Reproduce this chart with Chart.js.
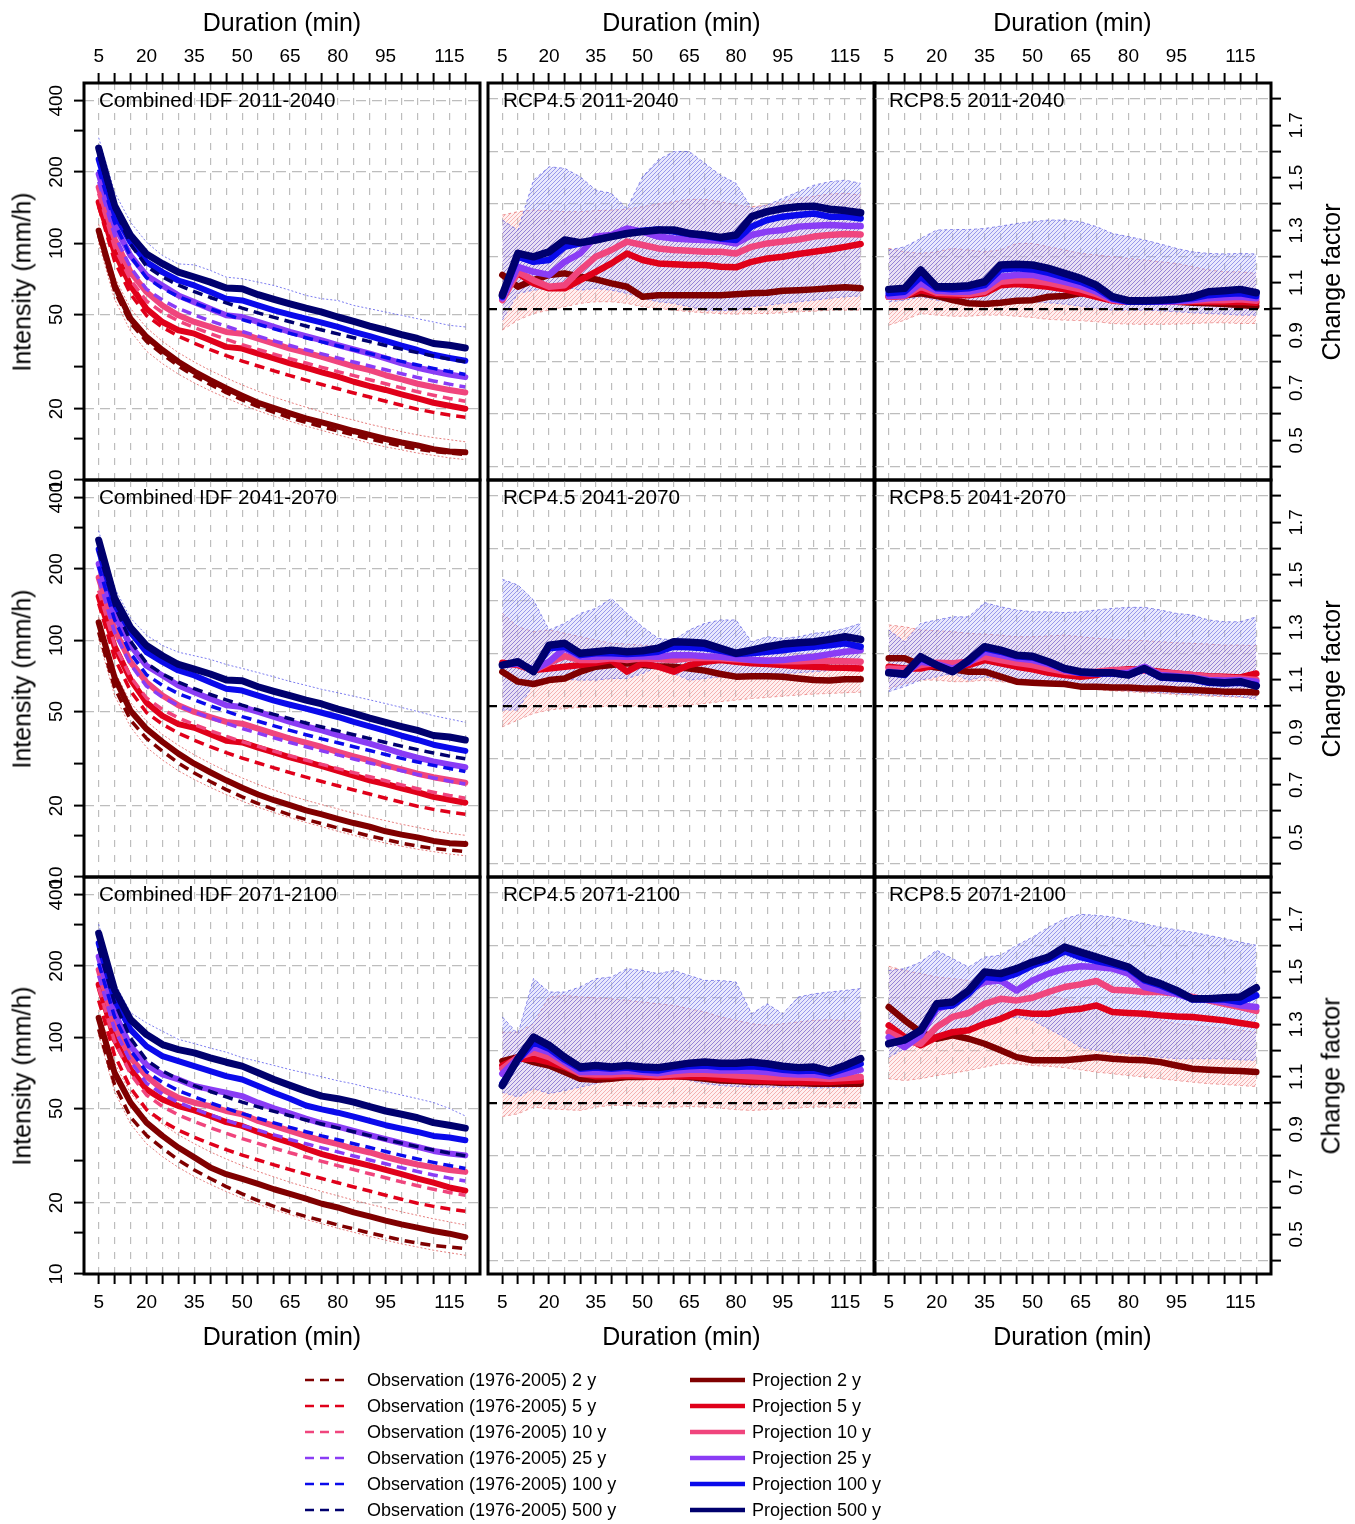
<!DOCTYPE html>
<html lang="en">
<head>
<meta charset="UTF-8">
<title>Combined IDF and change factors</title>
<script src="https://cdn.jsdelivr.net/npm/chart.js"></script>
<style>
  body { margin: 0; background: #fff; font-family: "Liberation Sans", Arial, Helvetica, sans-serif; }
  #page { position: relative; width: 1355px; height: 1524px; overflow: hidden; background: #fff; }
  #page canvas { position: absolute; left: 0; top: 0; }
  .txt { position: absolute; white-space: nowrap; color: #000; transform: translate(-50%, -50%); }
  .rot { transform: translate(-50%, -50%) rotate(-90deg); }
  .axt { font-size: 25px; }
  .ptitle { position: absolute; white-space: nowrap; font-size: 20.7px; transform: translateY(-50%); z-index: 5; }
  .leg { position: absolute; font-size: 18px; white-space: nowrap; transform: translateY(-50%); }
  .legsw { position: absolute; }
</style>
</head>
<body>
<div id="page"></div>
<script>
// durations (min) and axis ticks
const durations = [5, 10, 15, 20, 25, 30, 35, 40, 45, 50, 55, 60, 65, 70, 75, 80, 85, 90, 95, 100, 105, 110, 115, 120];
const xTickLabels = [5, 20, 35, 50, 65, 80, 95, 115];
const idfTicks = [10, 15, 20, 30, 50, 100, 200, 300, 400];
const idfTickLabels = [10, 20, 50, 100, 200, 400];
const cfTicks = [0.4, 0.5, 0.6, 0.7, 0.8, 0.9, 1.0, 1.1, 1.2, 1.3, 1.4, 1.5, 1.6, 1.7, 1.8];
const cfTickLabels = [0.5, 0.7, 0.9, 1.1, 1.3, 1.5, 1.7];
const cfGridValues = [0.4, 0.6, 0.8, 1.2, 1.4, 1.6, 1.8];
const returnPeriods = ['2 y', '5 y', '10 y', '25 y', '100 y', '500 y'];
const periods = ['2011-2040', '2041-2070', '2071-2100'];

// observed IDF 1976-2005 (mm/h)
const obs2 = [108, 63, 46, 38.5, 34, 30.3, 27.5, 25.3, 23.4, 21.8, 20.4, 19.3, 18.3, 17.5, 16.8, 16.1, 15.5, 14.9, 14.4, 13.9, 13.5, 13.2, 13.0, 12.8];
const obs5 = [143, 84, 61, 49.5, 44.2, 40.5, 37.8, 35.5, 33.5, 31.8, 30.3, 28.9, 27.6, 26.4, 25.3, 24.3, 23.3, 22.4, 21.5, 20.7, 19.9, 19.3, 18.8, 18.4];
const obs10 = [162, 96, 70, 57, 51, 47, 44, 41.5, 39.3, 37.3, 35.6, 34, 32.5, 31.2, 29.9, 28.7, 27.6, 26.5, 25.5, 24.5, 23.6, 22.8, 22.1, 21.5];
const obs25 = [182, 108, 79, 64, 57.5, 53, 49.8, 47, 44.6, 42.4, 40.5, 38.7, 37, 35.5, 34.1, 32.8, 31.5, 30.3, 29.2, 28.1, 27.1, 26.2, 25.4, 24.7];
const obs100 = [205, 122, 88, 71.5, 64.5, 59.5, 56, 52.8, 50.1, 47.6, 45.5, 43.5, 41.6, 39.9, 38.3, 36.9, 35.5, 34.2, 32.9, 31.7, 30.6, 29.6, 28.7, 27.9];
const obs500 = [238, 140, 99, 80, 72, 66.5, 62.5, 59, 56, 53.2, 50.8, 48.6, 46.6, 44.7, 43, 41.4, 39.9, 38.4, 37, 35.7, 34.5, 33.4, 32.4, 31.6];

// combined projected IDF (mm/h)
const idf2011_2y = [113, 66.3, 48, 40.2, 35.4, 31.6, 28.7, 26.4, 24.4, 22.7, 21.2, 20.1, 19.1, 18.2, 17.5, 16.8, 16.1, 15.5, 14.9, 14.4, 14, 13.5, 13.2, 13.1];
const idf2011_5y = [149, 91.6, 66.3, 52.9, 46.5, 42.9, 41.5, 38.9, 36.5, 35.9, 34.2, 32.6, 31.1, 29.8, 28.5, 27.3, 26, 24.9, 24, 23, 22.1, 21.2, 20.6, 20];
const idf2011_10y = [172, 104, 75.5, 62.2, 54.6, 49.6, 46.5, 44.3, 42.2, 41.5, 39.5, 37.7, 35.9, 34.5, 33.1, 31.6, 30.2, 29.1, 27.7, 26.6, 25.5, 24.7, 24, 23.4];
const idf2011_25y = [196, 118.7, 88.7, 73.1, 66.3, 60.2, 56.4, 52.9, 49.6, 48.8, 46.5, 44.3, 42.2, 40.5, 38.9, 37.1, 35.6, 34.2, 32.6, 31.1, 29.8, 28.8, 27.9, 27.2];
const idf2011_100y = [226, 133, 101, 83.2, 75.5, 69.6, 66.3, 62.2, 58.3, 57.3, 54.6, 52, 49.9, 48, 46.2, 44.3, 42.2, 40.5, 38.7, 36.9, 35.4, 33.8, 32.8, 31.9];
const idf2011_500y = [252, 144, 108, 90, 82, 75.5, 72, 68.5, 64.7, 64.2, 60.6, 57.9, 55.5, 53.2, 51.2, 48.8, 46.8, 44.7, 42.9, 41.1, 39.6, 37.7, 37.1, 36.1];
const idf2011_blueHi = [279, 164, 122.6, 101, 88.7, 81.8, 81, 76.8, 71.9, 70.8, 68.5, 66.3, 63.3, 60.2, 58.3, 57.3, 54.6, 52.9, 51.2, 49.6, 48, 46.5, 45, 44.3];
const idf2011_redHi = [120, 72, 53, 44, 38.5, 34.5, 31.5, 29, 27, 25.2, 23.7, 22.4, 21.3, 20.3, 19.4, 18.6, 17.9, 17.2, 16.6, 16, 15.5, 15.1, 14.8, 14.5];
const idf2011_redLo = [100, 58, 42.5, 35, 31, 28, 25.7, 23.8, 22.2, 20.8, 19.6, 18.6, 17.7, 16.9, 16.2, 15.5, 14.9, 14.3, 13.8, 13.4, 13, 12.7, 12.4, 12.2];

const idf2041_2y = [119, 69.6, 50.4, 42.2, 37.2, 33.2, 30.1, 27.7, 25.6, 23.8, 22.3, 21.1, 20.1, 19.1, 18.4, 17.6, 16.9, 16.3, 15.6, 15.1, 14.7, 14.2, 13.9, 13.8];
const idf2041_5y = [153, 94, 68.3, 54.5, 47.9, 44.2, 42.7, 40.1, 37.6, 37, 35.2, 33.6, 32, 30.7, 29.4, 28.1, 26.8, 25.6, 24.7, 23.7, 22.8, 21.8, 21.2, 20.6];
const idf2041_10y = [184, 111, 81, 66.5, 58.4, 53.1, 49.8, 47.4, 45.2, 44.4, 42.3, 40.3, 38.4, 36.9, 35.4, 33.8, 32.3, 31.1, 29.6, 28.5, 27.3, 26.4, 25.7, 25];
const idf2041_25y = [210, 127, 95, 78, 71, 64.4, 60.3, 56.6, 53.1, 52.2, 49.8, 47.4, 45.2, 43.3, 41.6, 39.7, 38.1, 36.6, 34.9, 33.3, 31.9, 30.8, 29.9, 29.1];
const idf2041_100y = [242, 142, 108, 89, 81, 74.5, 71, 66.5, 62.4, 61.3, 58.4, 55.6, 53.4, 51.4, 49.4, 47.4, 45.2, 43.3, 41.4, 39.5, 37.9, 36.2, 35.1, 34.1];
const idf2041_500y = [265, 151, 113, 95, 86, 79, 75.5, 72, 68, 67.4, 63.6, 60.8, 58.3, 55.9, 53.8, 51.2, 49.1, 46.9, 45, 43.2, 41.6, 39.6, 39, 37.9];
const idf2041_blueHi = [290, 166, 124, 105, 95, 89, 86, 83, 79, 76, 73, 70, 67, 64.5, 62, 60, 58, 56, 54, 52, 50, 48, 46.5, 45];
const idf2041_redHi = [125, 74, 54.5, 45.5, 40, 36, 32.8, 30.2, 28, 26.2, 24.6, 23.3, 22.1, 21.1, 20.2, 19.4, 18.6, 17.9, 17.3, 16.7, 16.2, 15.7, 15.3, 15];
const idf2041_redLo = [101, 58.5, 43, 35.3, 31.2, 28.1, 25.8, 23.9, 22.3, 20.9, 19.7, 18.7, 17.8, 17, 16.3, 15.6, 15, 14.4, 13.9, 13.5, 13.1, 12.8, 12.5, 12.3];

const idf2071_2y = [120.6, 70.8, 52.9, 43.6, 38.3, 34.2, 31.1, 28.2, 26.4, 25.2, 24, 22.8, 21.8, 20.8, 19.8, 19.1, 18.2, 17.5, 16.8, 16.2, 15.7, 15.2, 14.8, 14.3];
const idf2071_5y = [166.7, 97.8, 73.1, 60.2, 54.6, 51.2, 49.1, 46.5, 43.8, 42.2, 39.8, 37.7, 35.9, 33.8, 32.1, 30.8, 29.8, 28.7, 27.5, 26.4, 25.3, 24.3, 23.2, 22.5];
const idf2071_10y = [192.7, 112, 81.8, 68.5, 60.2, 55.5, 52.9, 51.2, 48.8, 47.3, 44.3, 42.2, 40.2, 38.3, 36.7, 35.4, 33.8, 32.6, 31.2, 30, 29, 28.2, 27.5, 27];
const idf2071_25y = [219, 126.6, 91.6, 76.5, 69.6, 66.3, 62.2, 60.2, 58.3, 56.4, 52.9, 50.1, 47.7, 45.3, 43.3, 41.9, 40.2, 38.6, 37.1, 35.7, 34.4, 33.1, 32.3, 31.7];
const idf2071_100y = [249.6, 144, 107.7, 91.6, 83.2, 79.2, 75.5, 71.9, 68.5, 66.3, 62.2, 58.3, 55, 51.5, 49.6, 48, 46.2, 44.3, 42.5, 41.1, 39.8, 38.3, 37.7, 36.7];
const idf2071_500y = [275, 158.6, 118.7, 102.6, 93.1, 88.7, 85.9, 81.8, 78.4, 75.5, 70.8, 66.3, 62.6, 59.2, 56.4, 55, 53.2, 50.9, 48.8, 47.3, 45.7, 43.6, 42.5, 41.3];
const idf2071_blueHi = [300, 170, 127, 115, 106, 98, 94, 90, 86.5, 82, 79, 76, 73, 70.5, 68, 65.5, 63.5, 61, 59, 57, 55, 53, 50, 46.5];
const idf2071_redHi = [130, 78, 58, 48.5, 43, 38.7, 35.5, 32.8, 30.6, 28.7, 27.1, 25.7, 24.4, 23.3, 22.3, 21.4, 20.5, 19.7, 19, 18.3, 17.7, 17.1, 16.6, 16.1];
const idf2071_redLo = [102, 59, 43, 35.5, 31.3, 28.2, 25.8, 23.9, 22.3, 20.9, 19.7, 18.7, 17.8, 17, 16.3, 15.6, 15, 14.4, 13.9, 13.4, 13, 12.6, 12.3, 12];

// change factors RCP4.5
const rcp45_2011_2y = [1.13, 1.085, 1.11, 1.13, 1.136, 1.123, 1.113, 1.098, 1.085, 1.047, 1.053, 1.053, 1.053, 1.053, 1.053, 1.056, 1.06, 1.062, 1.07, 1.072, 1.075, 1.079, 1.083, 1.079];
const rcp45_2011_5y = [1.06, 1.136, 1.098, 1.079, 1.079, 1.11, 1.142, 1.174, 1.212, 1.187, 1.174, 1.171, 1.168, 1.168, 1.161, 1.159, 1.18, 1.193, 1.199, 1.21, 1.218, 1.227, 1.237, 1.248];
const rcp45_2011_10y = [1.034, 1.142, 1.11, 1.085, 1.091, 1.149, 1.199, 1.225, 1.257, 1.244, 1.231, 1.225, 1.222, 1.218, 1.218, 1.212, 1.237, 1.25, 1.257, 1.265, 1.276, 1.282, 1.286, 1.284];
const rcp45_2011_25y = [1.041, 1.161, 1.142, 1.13, 1.18, 1.212, 1.276, 1.282, 1.307, 1.295, 1.276, 1.269, 1.265, 1.263, 1.26, 1.25, 1.282, 1.295, 1.301, 1.314, 1.317, 1.32, 1.317, 1.316];
const rcp45_2011_100y = [1.047, 1.2, 1.18, 1.187, 1.237, 1.25, 1.265, 1.276, 1.288, 1.298, 1.303, 1.295, 1.286, 1.278, 1.269, 1.263, 1.314, 1.339, 1.352, 1.358, 1.364, 1.352, 1.352, 1.345];
const rcp45_2011_500y = [1.053, 1.212, 1.199, 1.218, 1.263, 1.253, 1.263, 1.276, 1.288, 1.295, 1.301, 1.301, 1.288, 1.282, 1.273, 1.282, 1.352, 1.371, 1.383, 1.39, 1.392, 1.38, 1.375, 1.367];
const rcp45_2011_blueHi = [1.339, 1.3, 1.491, 1.542, 1.536, 1.504, 1.453, 1.441, 1.383, 1.504, 1.568, 1.6, 1.6, 1.555, 1.51, 1.479, 1.383, 1.396, 1.422, 1.447, 1.472, 1.485, 1.491, 1.479];
const rcp45_2011_blueLo = [0.958, 1.06, 1.072, 1.079, 1.085, 1.072, 1.079, 1.072, 1.06, 1.041, 1.028, 1.022, 1.009, 0.996, 0.994, 0.996, 1.009, 1.015, 1.022, 1.028, 1.034, 1.041, 1.047, 1.05];
const rcp45_2011_redHi = [1.358, 1.371, 1.377, 1.375, 1.371, 1.371, 1.375, 1.377, 1.38, 1.39, 1.4, 1.409, 1.418, 1.418, 1.409, 1.396, 1.39, 1.396, 1.409, 1.422, 1.43, 1.438, 1.441, 1.434];
const rcp45_2011_redLo = [0.92, 0.958, 0.983, 0.996, 1.009, 1.022, 1.028, 1.028, 1.022, 1.009, 1.003, 0.996, 0.99, 0.986, 0.983, 0.981, 0.983, 0.983, 0.986, 0.99, 0.992, 0.996, 0.996, 0.996];

const rcp45_2041_2y = [1.131, 1.093, 1.084, 1.099, 1.105, 1.131, 1.15, 1.156, 1.163, 1.156, 1.152, 1.15, 1.143, 1.135, 1.122, 1.112, 1.114, 1.114, 1.112, 1.105, 1.099, 1.097, 1.102, 1.102];
const rcp45_2041_5y = [1.165, 1.156, 1.137, 1.143, 1.15, 1.156, 1.165, 1.175, 1.131, 1.163, 1.15, 1.131, 1.156, 1.169, 1.175, 1.169, 1.163, 1.16, 1.156, 1.152, 1.15, 1.147, 1.146, 1.143];
const rcp45_2041_10y = [1.156, 1.16, 1.135, 1.165, 1.19, 1.175, 1.175, 1.182, 1.175, 1.182, 1.178, 1.175, 1.182, 1.184, 1.182, 1.178, 1.175, 1.173, 1.171, 1.171, 1.173, 1.173, 1.171, 1.169];
const rcp45_2041_25y = [1.156, 1.163, 1.137, 1.169, 1.22, 1.188, 1.188, 1.19, 1.188, 1.19, 1.188, 1.194, 1.194, 1.19, 1.188, 1.182, 1.175, 1.173, 1.175, 1.182, 1.188, 1.198, 1.207, 1.213];
const rcp45_2041_100y = [1.156, 1.165, 1.137, 1.22, 1.226, 1.194, 1.201, 1.201, 1.198, 1.201, 1.207, 1.226, 1.224, 1.22, 1.211, 1.198, 1.201, 1.207, 1.213, 1.22, 1.226, 1.232, 1.239, 1.226];
const rcp45_2041_500y = [1.156, 1.169, 1.131, 1.232, 1.239, 1.201, 1.207, 1.213, 1.207, 1.211, 1.22, 1.245, 1.243, 1.239, 1.22, 1.201, 1.213, 1.226, 1.236, 1.241, 1.245, 1.254, 1.264, 1.254];
const rcp45_2041_blueHi = [1.483, 1.461, 1.404, 1.29, 1.315, 1.353, 1.372, 1.41, 1.353, 1.302, 1.258, 1.251, 1.29, 1.315, 1.328, 1.328, 1.245, 1.264, 1.258, 1.264, 1.277, 1.283, 1.296, 1.315];
const rcp45_2041_blueLo = [0.985, 0.985, 1.086, 1.099, 1.102, 1.099, 1.099, 1.105, 1.105, 1.124, 1.15, 1.124, 1.099, 1.105, 1.112, 1.112, 1.118, 1.124, 1.124, 1.127, 1.131, 1.135, 1.137, 1.137];
const rcp45_2041_redHi = [1.353, 1.302, 1.283, 1.29, 1.277, 1.264, 1.251, 1.239, 1.236, 1.232, 1.23, 1.226, 1.22, 1.216, 1.211, 1.207, 1.203, 1.201, 1.198, 1.198, 1.201, 1.201, 1.201, 1.201];
const rcp45_2041_redLo = [0.921, 0.947, 0.972, 0.985, 0.991, 0.995, 0.997, 1.0, 1.003, 0.997, 0.995, 0.997, 1.004, 1.01, 1.017, 1.023, 1.029, 1.033, 1.038, 1.042, 1.046, 1.048, 1.051, 1.053];

const rcp45_2071_2y = [1.16, 1.175, 1.156, 1.143, 1.118, 1.093, 1.089, 1.093, 1.099, 1.099, 1.102, 1.102, 1.099, 1.093, 1.086, 1.084, 1.08, 1.08, 1.076, 1.076, 1.074, 1.074, 1.074, 1.074];
const rcp45_2071_5y = [1.143, 1.169, 1.169, 1.156, 1.137, 1.112, 1.102, 1.102, 1.105, 1.102, 1.099, 1.102, 1.102, 1.099, 1.093, 1.089, 1.086, 1.084, 1.082, 1.08, 1.08, 1.08, 1.084, 1.086];
const rcp45_2071_10y = [1.131, 1.175, 1.194, 1.175, 1.143, 1.112, 1.109, 1.109, 1.112, 1.109, 1.105, 1.109, 1.112, 1.112, 1.109, 1.105, 1.102, 1.099, 1.097, 1.097, 1.095, 1.093, 1.095, 1.099];
const rcp45_2071_25y = [1.112, 1.169, 1.213, 1.194, 1.156, 1.118, 1.118, 1.118, 1.122, 1.118, 1.114, 1.122, 1.127, 1.127, 1.124, 1.124, 1.122, 1.118, 1.112, 1.109, 1.109, 1.102, 1.112, 1.127];
const rcp45_2071_100y = [1.074, 1.163, 1.232, 1.207, 1.165, 1.131, 1.135, 1.131, 1.135, 1.127, 1.124, 1.135, 1.14, 1.143, 1.137, 1.137, 1.14, 1.135, 1.127, 1.122, 1.124, 1.112, 1.131, 1.15];
const rcp45_2071_500y = [1.067, 1.169, 1.251, 1.22, 1.175, 1.137, 1.143, 1.137, 1.143, 1.137, 1.135, 1.143, 1.152, 1.156, 1.152, 1.152, 1.156, 1.15, 1.14, 1.135, 1.137, 1.122, 1.143, 1.169];
const rcp45_2071_blueHi = [1.328, 1.264, 1.474, 1.423, 1.423, 1.442, 1.474, 1.48, 1.512, 1.505, 1.493, 1.505, 1.486, 1.467, 1.467, 1.461, 1.34, 1.378, 1.34, 1.404, 1.416, 1.423, 1.429, 1.436];
const rcp45_2071_blueLo = [1.042, 1.023, 1.055, 1.036, 1.048, 1.061, 1.074, 1.086, 1.093, 1.099, 1.102, 1.099, 1.086, 1.074, 1.067, 1.063, 1.061, 1.061, 1.061, 1.058, 1.058, 1.058, 1.061, 1.063];
const rcp45_2071_redHi = [1.27, 1.27, 1.302, 1.404, 1.41, 1.404, 1.401, 1.397, 1.391, 1.385, 1.378, 1.372, 1.359, 1.347, 1.328, 1.315, 1.302, 1.296, 1.302, 1.309, 1.315, 1.317, 1.315, 1.312];
const rcp45_2071_redLo = [0.949, 0.959, 0.985, 0.978, 0.975, 0.972, 0.985, 0.991, 0.991, 0.987, 0.985, 0.985, 0.987, 0.985, 0.981, 0.975, 0.972, 0.975, 0.978, 0.982, 0.985, 0.985, 0.982, 0.982];

// change factors RCP8.5
const rcp85_2011_2y = [1.047, 1.053, 1.06, 1.05, 1.034, 1.022, 1.019, 1.024, 1.032, 1.034, 1.047, 1.05, 1.06, 1.053, 1.041, 1.034, 1.032, 1.028, 1.028, 1.024, 1.022, 1.019, 1.015, 1.011];
const rcp85_2011_5y = [1.047, 1.05, 1.072, 1.057, 1.053, 1.053, 1.06, 1.091, 1.095, 1.091, 1.085, 1.075, 1.062, 1.047, 1.032, 1.028, 1.028, 1.028, 1.028, 1.028, 1.028, 1.027, 1.028, 1.024];
const rcp85_2011_10y = [1.047, 1.05, 1.085, 1.062, 1.06, 1.057, 1.066, 1.104, 1.11, 1.108, 1.1, 1.088, 1.075, 1.057, 1.034, 1.028, 1.028, 1.028, 1.029, 1.032, 1.034, 1.034, 1.037, 1.032];
const rcp85_2011_25y = [1.05, 1.053, 1.098, 1.07, 1.066, 1.066, 1.079, 1.123, 1.13, 1.13, 1.117, 1.104, 1.088, 1.066, 1.037, 1.028, 1.028, 1.028, 1.03, 1.034, 1.041, 1.044, 1.047, 1.041];
const rcp85_2011_100y = [1.06, 1.066, 1.123, 1.079, 1.075, 1.079, 1.091, 1.151, 1.155, 1.151, 1.138, 1.121, 1.104, 1.079, 1.041, 1.028, 1.028, 1.03, 1.034, 1.041, 1.053, 1.057, 1.06, 1.05];
const rcp85_2011_500y = [1.075, 1.079, 1.149, 1.085, 1.085, 1.089, 1.104, 1.168, 1.171, 1.168, 1.155, 1.136, 1.117, 1.091, 1.047, 1.032, 1.032, 1.034, 1.037, 1.047, 1.066, 1.07, 1.075, 1.062];
const rcp85_2011_blueHi = [1.225, 1.237, 1.269, 1.301, 1.303, 1.303, 1.307, 1.316, 1.326, 1.333, 1.339, 1.339, 1.333, 1.314, 1.288, 1.276, 1.263, 1.248, 1.231, 1.218, 1.212, 1.21, 1.212, 1.21];
const rcp85_2011_blueLo = [1.028, 1.034, 1.047, 1.034, 1.028, 1.022, 1.024, 1.028, 1.03, 1.028, 1.024, 1.019, 1.011, 1.003, 0.996, 0.996, 0.996, 0.994, 0.99, 0.986, 0.983, 0.981, 0.977, 0.977];
const rcp85_2011_redHi = [1.231, 1.218, 1.212, 1.218, 1.231, 1.225, 1.218, 1.225, 1.25, 1.25, 1.237, 1.225, 1.212, 1.206, 1.199, 1.193, 1.187, 1.18, 1.174, 1.161, 1.149, 1.142, 1.142, 1.136];
const rcp85_2011_redLo = [0.939, 0.958, 0.983, 0.977, 0.973, 0.973, 0.977, 0.977, 0.973, 0.968, 0.961, 0.958, 0.956, 0.952, 0.945, 0.943, 0.942, 0.942, 0.943, 0.945, 0.948, 0.948, 0.945, 0.945];

const rcp85_2041_2y = [1.182, 1.182, 1.156, 1.147, 1.14, 1.131, 1.131, 1.112, 1.093, 1.089, 1.086, 1.084, 1.074, 1.074, 1.071, 1.071, 1.067, 1.067, 1.063, 1.061, 1.058, 1.055, 1.055, 1.052];
const rcp85_2041_5y = [1.15, 1.143, 1.143, 1.156, 1.156, 1.156, 1.175, 1.163, 1.15, 1.14, 1.127, 1.118, 1.112, 1.118, 1.135, 1.14, 1.137, 1.131, 1.124, 1.118, 1.114, 1.112, 1.109, 1.124];
const rcp85_2041_10y = [1.143, 1.14, 1.156, 1.165, 1.163, 1.169, 1.188, 1.175, 1.165, 1.156, 1.143, 1.131, 1.127, 1.131, 1.137, 1.137, 1.135, 1.127, 1.124, 1.118, 1.112, 1.109, 1.105, 1.099];
const rcp85_2041_25y = [1.131, 1.124, 1.169, 1.16, 1.143, 1.165, 1.207, 1.194, 1.182, 1.175, 1.16, 1.137, 1.127, 1.124, 1.124, 1.127, 1.15, 1.118, 1.114, 1.109, 1.099, 1.097, 1.099, 1.093];
const rcp85_2041_100y = [1.127, 1.118, 1.182, 1.156, 1.131, 1.169, 1.22, 1.207, 1.19, 1.185, 1.165, 1.14, 1.127, 1.124, 1.124, 1.118, 1.14, 1.109, 1.105, 1.102, 1.089, 1.086, 1.089, 1.08];
const rcp85_2041_500y = [1.127, 1.122, 1.188, 1.156, 1.131, 1.175, 1.226, 1.213, 1.194, 1.19, 1.169, 1.143, 1.131, 1.127, 1.127, 1.118, 1.143, 1.112, 1.109, 1.105, 1.093, 1.089, 1.093, 1.076];
const rcp85_2041_blueHi = [1.29, 1.245, 1.315, 1.328, 1.34, 1.34, 1.394, 1.378, 1.366, 1.359, 1.359, 1.356, 1.359, 1.366, 1.372, 1.376, 1.376, 1.366, 1.353, 1.347, 1.328, 1.321, 1.321, 1.34];
const rcp85_2041_blueLo = [1.055, 1.074, 1.099, 1.112, 1.124, 1.099, 1.112, 1.099, 1.086, 1.084, 1.08, 1.076, 1.071, 1.067, 1.063, 1.058, 1.055, 1.051, 1.048, 1.044, 1.042, 1.038, 1.036, 1.025];
const rcp85_2041_redHi = [1.309, 1.302, 1.29, 1.287, 1.283, 1.277, 1.274, 1.27, 1.264, 1.264, 1.267, 1.27, 1.264, 1.258, 1.254, 1.251, 1.249, 1.245, 1.241, 1.239, 1.236, 1.232, 1.232, 1.23];
const rcp85_2041_redLo = [1.067, 1.086, 1.099, 1.099, 1.093, 1.093, 1.099, 1.093, 1.086, 1.084, 1.08, 1.074, 1.067, 1.063, 1.058, 1.055, 1.051, 1.048, 1.044, 1.042, 1.038, 1.036, 1.033, 1.033];

const rcp85_2071_2y = [1.366, 1.315, 1.27, 1.245, 1.258, 1.245, 1.226, 1.201, 1.175, 1.163, 1.163, 1.163, 1.169, 1.175, 1.169, 1.165, 1.163, 1.156, 1.143, 1.131, 1.127, 1.124, 1.122, 1.118];
const rcp85_2071_5y = [1.296, 1.251, 1.22, 1.251, 1.27, 1.277, 1.302, 1.321, 1.347, 1.34, 1.34, 1.353, 1.359, 1.372, 1.347, 1.343, 1.34, 1.334, 1.33, 1.328, 1.321, 1.315, 1.305, 1.296];
const rcp85_2071_10y = [1.27, 1.239, 1.226, 1.29, 1.328, 1.343, 1.378, 1.397, 1.391, 1.401, 1.423, 1.442, 1.452, 1.465, 1.432, 1.429, 1.423, 1.423, 1.416, 1.404, 1.391, 1.378, 1.366, 1.351];
const rcp85_2071_25y = [1.251, 1.213, 1.258, 1.359, 1.378, 1.429, 1.461, 1.467, 1.429, 1.467, 1.493, 1.512, 1.521, 1.518, 1.512, 1.493, 1.442, 1.429, 1.416, 1.397, 1.394, 1.385, 1.372, 1.366];
const rcp85_2071_100y = [1.226, 1.239, 1.274, 1.366, 1.372, 1.416, 1.48, 1.474, 1.493, 1.524, 1.545, 1.578, 1.556, 1.541, 1.528, 1.512, 1.467, 1.448, 1.423, 1.394, 1.394, 1.394, 1.385, 1.41];
const rcp85_2071_500y = [1.226, 1.241, 1.277, 1.378, 1.385, 1.429, 1.499, 1.493, 1.512, 1.537, 1.556, 1.594, 1.575, 1.556, 1.537, 1.518, 1.474, 1.455, 1.429, 1.397, 1.397, 1.401, 1.404, 1.439];
const rcp85_2071_blueHi = [1.505, 1.512, 1.537, 1.582, 1.55, 1.518, 1.556, 1.563, 1.601, 1.632, 1.67, 1.702, 1.719, 1.715, 1.709, 1.696, 1.683, 1.67, 1.66, 1.651, 1.639, 1.626, 1.613, 1.601];
const rcp85_2071_blueLo = [1.175, 1.207, 1.251, 1.264, 1.277, 1.283, 1.302, 1.315, 1.328, 1.315, 1.283, 1.251, 1.213, 1.201, 1.194, 1.188, 1.182, 1.175, 1.169, 1.169, 1.169, 1.169, 1.165, 1.163];
const rcp85_2071_redHi = [1.521, 1.505, 1.493, 1.48, 1.474, 1.467, 1.455, 1.442, 1.436, 1.423, 1.41, 1.397, 1.378, 1.366, 1.353, 1.34, 1.328, 1.315, 1.302, 1.296, 1.29, 1.283, 1.277, 1.27];
const rcp85_2071_redLo = [1.093, 1.086, 1.093, 1.105, 1.114, 1.124, 1.137, 1.15, 1.15, 1.143, 1.14, 1.135, 1.127, 1.118, 1.112, 1.105, 1.099, 1.093, 1.086, 1.08, 1.074, 1.071, 1.067, 1.063];

// ---- layout and styles ----
const FONT = "'Liberation Sans', Arial, Helvetica, sans-serif";
Chart.defaults.font.family = FONT;
Chart.defaults.color = '#000';
const W = 1355, H = 1524;
const cols = [{ l: 84, r: 480 }, { l: 488, r: 875 }, { l: 874, r: 1271 }];
const rows = [{ t: 83, b: 480 }, { t: 480, b: 877 }, { t: 877, b: 1274 }];
const rpColors = ['#800000', '#e0001a', '#f0457d', '#8a3cf5', '#0a0aeb', '#00006e'];
const GRID = '#bdbdbd';
const page = document.getElementById('page');

const obsSeries = [obs2, obs5, obs10, obs25, obs100, obs500];
const idfProj = [
  [idf2011_2y, idf2011_5y, idf2011_10y, idf2011_25y, idf2011_100y, idf2011_500y],
  [idf2041_2y, idf2041_5y, idf2041_10y, idf2041_25y, idf2041_100y, idf2041_500y],
  [idf2071_2y, idf2071_5y, idf2071_10y, idf2071_25y, idf2071_100y, idf2071_500y]
];
const idfBounds = [
  [idf2011_blueHi, idf2011_redHi, idf2011_redLo],
  [idf2041_blueHi, idf2041_redHi, idf2041_redLo],
  [idf2071_blueHi, idf2071_redHi, idf2071_redLo]
];
const rcp45 = [
  [rcp45_2011_2y, rcp45_2011_5y, rcp45_2011_10y, rcp45_2011_25y, rcp45_2011_100y, rcp45_2011_500y],
  [rcp45_2041_2y, rcp45_2041_5y, rcp45_2041_10y, rcp45_2041_25y, rcp45_2041_100y, rcp45_2041_500y],
  [rcp45_2071_2y, rcp45_2071_5y, rcp45_2071_10y, rcp45_2071_25y, rcp45_2071_100y, rcp45_2071_500y]
];
const rcp45Bands = [
  [rcp45_2011_blueHi, rcp45_2011_blueLo, rcp45_2011_redHi, rcp45_2011_redLo],
  [rcp45_2041_blueHi, rcp45_2041_blueLo, rcp45_2041_redHi, rcp45_2041_redLo],
  [rcp45_2071_blueHi, rcp45_2071_blueLo, rcp45_2071_redHi, rcp45_2071_redLo]
];
const rcp85 = [
  [rcp85_2011_2y, rcp85_2011_5y, rcp85_2011_10y, rcp85_2011_25y, rcp85_2011_100y, rcp85_2011_500y],
  [rcp85_2041_2y, rcp85_2041_5y, rcp85_2041_10y, rcp85_2041_25y, rcp85_2041_100y, rcp85_2041_500y],
  [rcp85_2071_2y, rcp85_2071_5y, rcp85_2071_10y, rcp85_2071_25y, rcp85_2071_100y, rcp85_2071_500y]
];
const rcp85Bands = [
  [rcp85_2011_blueHi, rcp85_2011_blueLo, rcp85_2011_redHi, rcp85_2011_redLo],
  [rcp85_2041_blueHi, rcp85_2041_blueLo, rcp85_2041_redHi, rcp85_2041_redLo],
  [rcp85_2071_blueHi, rcp85_2071_blueLo, rcp85_2071_redHi, rcp85_2071_redLo]
];

function hatch(lineColor, bgColor) {
  const c = document.createElement('canvas');
  c.width = 4; c.height = 4;
  const g = c.getContext('2d');
  g.fillStyle = bgColor; g.fillRect(0, 0, 4, 4);
  g.strokeStyle = lineColor; g.lineWidth = 1;
  g.beginPath();
  g.moveTo(0, 4); g.lineTo(4, 0);
  g.moveTo(-1, 1); g.lineTo(1, -1);
  g.moveTo(3, 5); g.lineTo(5, 3);
  g.stroke();
  return g.createPattern(c, 'repeat');
}
const blueHatch = hatch('rgba(85,85,220,0.55)', 'rgba(200,200,250,0.4)');
const redHatch = hatch('rgba(230,100,100,0.45)', 'rgba(255,212,212,0.35)');

function series(vals) {
  return durations.map((d, i) => ({ x: d, y: vals[i] }));
}
function lineSet(vals, color, width, dash) {
  return {
    data: series(vals), borderColor: color, backgroundColor: color, borderWidth: width,
    borderDash: dash || [], borderCapStyle: dash ? 'butt' : 'round', borderJoinStyle: 'round',
    pointRadius: 0, fill: false, tension: 0
  };
}
function bandSets(hi, lo, edge, pattern) {
  return [
    { data: series(hi), borderColor: edge, borderWidth: 1, borderDash: [3, 3], pointRadius: 0, fill: '+1', backgroundColor: pattern, tension: 0 },
    { data: series(lo), borderColor: edge, borderWidth: 1, borderDash: [3, 3], pointRadius: 0, fill: false, tension: 0 }
  ];
}

// axis box sizes: the labelled axes reach to the page edge so their labels are not clipped
function xScale(r) {
  const shown = r !== 1;
  const size = r === 0 ? rows[0].t : (r === 2 ? H - rows[2].b : 0);
  return {
    type: 'linear', min: 0.4, max: 124.6,
    position: r === 0 ? 'top' : 'bottom',
    afterBuildTicks: s => { s.ticks = durations.map(v => ({ value: v })); },
    afterFit: s => { s.height = size; },
    ticks: {
      display: shown, autoSkip: false, maxRotation: 0, minRotation: 0,
      padding: r === 0 ? 5 : 7, color: '#000', font: { size: 19 },
      callback: v => xTickLabels.includes(v) ? String(v) : ''
    },
    grid: { color: GRID, lineWidth: 1.2, drawTicks: shown, tickLength: 10, tickColor: '#000', tickWidth: 2 },
    border: { display: false, dash: [7, 8] }
  };
}
function idfScale() {
  return {
    type: 'logarithmic', min: 10, max: 475, position: 'left',
    afterBuildTicks: s => { s.ticks = idfTicks.map(v => ({ value: v })); },
    afterFit: s => { s.width = cols[0].l; },
    ticks: {
      autoSkip: false, minRotation: 90, maxRotation: 90, crossAlign: 'center', padding: 1,
      color: '#000', font: { size: 19 },
      callback: v => idfTickLabels.includes(v) ? String(v) : ''
    },
    grid: {
      color: c => (c.tick && idfTickLabels.includes(c.tick.value) && c.tick.value !== 10) ? GRID : 'rgba(0,0,0,0)',
      lineWidth: 1.2, tickLength: 10, tickColor: '#000', tickWidth: 2
    },
    border: { display: false, dash: [10, 6] }
  };
}
function cfScale(c) {
  const right = c === 2;
  return {
    type: 'linear', min: 0.349, max: 1.861, position: right ? 'right' : 'left',
    afterBuildTicks: s => { s.ticks = cfTicks.map(v => ({ value: v })); },
    afterFit: s => { s.width = right ? W - cols[2].r : 0; },
    ticks: {
      display: right, autoSkip: false, minRotation: 90, maxRotation: 90, crossAlign: 'center', padding: 3,
      color: '#000', font: { size: 19 },
      callback: v => cfTickLabels.includes(v) ? v.toFixed(1) : ''
    },
    grid: {
      color: ctx => (ctx.tick && cfGridValues.includes(ctx.tick.value)) ? GRID : 'rgba(0,0,0,0)',
      lineWidth: 1.2, drawTicks: right, tickLength: 10, tickColor: '#000', tickWidth: 2
    },
    border: { display: false, dash: [10, 6] }
  };
}

const framePlugin = {
  id: 'frame',
  afterDatasetsDraw(chart, args, opts) {
    if (!opts.refLine) return;
    const { ctx, chartArea: a } = chart;
    const y = chart.scales.y.getPixelForValue(1);
    ctx.save();
    ctx.strokeStyle = '#000'; ctx.lineWidth = 2.2; ctx.setLineDash([9, 6]);
    ctx.beginPath(); ctx.moveTo(a.left, y); ctx.lineTo(a.right, y); ctx.stroke();
    ctx.restore();
  },
  afterDraw(chart) {
    const { ctx, chartArea: a } = chart;
    ctx.save();
    ctx.strokeStyle = '#000'; ctx.lineWidth = 3;
    ctx.strokeRect(a.left, a.top, a.right - a.left, a.bottom - a.top);
    ctx.restore();
  }
};

function makeChart(r, c, datasets, yScale, refLine) {
  const cv = document.createElement('canvas');
  cv.width = W; cv.height = H;
  page.appendChild(cv);
  const pad = {
    left: c === 0 ? 0 : cols[c].l,
    right: c === 2 ? 0 : W - cols[c].r,
    top: r === 0 ? 0 : rows[r].t,
    bottom: r === 2 ? 0 : H - rows[r].b
  };
  new Chart(cv, {
    type: 'line',
    data: { datasets },
    options: {
      responsive: false, maintainAspectRatio: false, animation: false, devicePixelRatio: 1,
      layout: { autoPadding: false, padding: pad },
      scales: { x: xScale(r), y: yScale },
      plugins: { legend: { display: false }, tooltip: { enabled: false }, frame: { refLine } }
    },
    plugins: [framePlugin]
  });
}

function addText(cls, text, x, y) {
  const d = document.createElement('div');
  d.className = cls;
  d.textContent = text;
  d.style.left = x + 'px';
  d.style.top = y + 'px';
  page.appendChild(d);
  return d;
}

// ---- panels ----
for (let r = 0; r < 3; r++) {
  const order = [5, 4, 3, 2, 1, 0];
  // combined IDF
  const idfSets = [];
  order.forEach(k => idfSets.push(lineSet(obsSeries[k], rpColors[k], 3.5, [10, 6])));
  order.forEach(k => idfSets.push(lineSet(idfProj[r][k], rpColors[k], k === 5 ? 7 : 6)));
  idfSets.push(lineSet(idfBounds[r][0], 'rgba(80,80,235,0.75)', 1, [2, 2]));
  idfSets.push(lineSet(idfBounds[r][1], 'rgba(220,70,70,0.7)', 1, [2, 2]));
  idfSets.push(lineSet(idfBounds[r][2], 'rgba(220,70,70,0.7)', 1, [2, 2]));
  makeChart(r, 0, idfSets, idfScale(), false);

  // RCP4.5 and RCP8.5 change factors
  [[rcp45, rcp45Bands], [rcp85, rcp85Bands]].forEach(([cf, bands], i) => {
    const sets = [];
    order.forEach(k => sets.push(lineSet(cf[r][k], rpColors[k], k === 5 ? 7.5 : 6.5)));
    sets.push(...bandSets(bands[r][0], bands[r][1], 'rgba(70,70,220,0.6)', blueHatch));
    sets.push(...bandSets(bands[r][2], bands[r][3], 'rgba(220,70,70,0.55)', redHatch));
    makeChart(r, i + 1, sets, cfScale(i + 1), true);
  });

  const midY = (rows[r].t + rows[r].b) / 2;
  addText('txt rot axt', 'Intensity (mm/h)', 22, midY);
  addText('txt rot axt', 'Change factor', 1331, midY);
  addText('ptitle', 'Combined IDF ' + periods[r], cols[0].l + 15, rows[r].t + 17);
  addText('ptitle', 'RCP4.5 ' + periods[r], cols[1].l + 15, rows[r].t + 17);
  addText('ptitle', 'RCP8.5 ' + periods[r], cols[2].l + 15, rows[r].t + 17);
}
cols.forEach(c => {
  const cx = (c.l + c.r) / 2;
  addText('txt axt', 'Duration (min)', cx, 22);
  addText('txt axt', 'Duration (min)', cx, 1336);
});

// ---- legend ----
returnPeriods.forEach((rp, i) => {
  const y = 1380 + i * 26;
  const svgNS = 'http://www.w3.org/2000/svg';
  [[305, 42, '9 6', 2.5, 'Observation (1976-2005) ' + rp, 367],
   [690, 55, null, 4.5, 'Projection ' + rp, 752]].forEach(([x0, w, dash, lw, label, tx]) => {
    const svg = document.createElementNS(svgNS, 'svg');
    svg.setAttribute('width', w); svg.setAttribute('height', 10);
    svg.setAttribute('class', 'legsw');
    svg.style.left = x0 + 'px'; svg.style.top = (y - 5) + 'px';
    const ln = document.createElementNS(svgNS, 'line');
    ln.setAttribute('x1', 0); ln.setAttribute('x2', w); ln.setAttribute('y1', 5); ln.setAttribute('y2', 5);
    ln.setAttribute('stroke', rpColors[i]); ln.setAttribute('stroke-width', lw);
    if (dash) ln.setAttribute('stroke-dasharray', dash);
    svg.appendChild(ln);
    page.appendChild(svg);
    addText('leg', label, tx, y);
  });
});
</script>
</body>
</html>
